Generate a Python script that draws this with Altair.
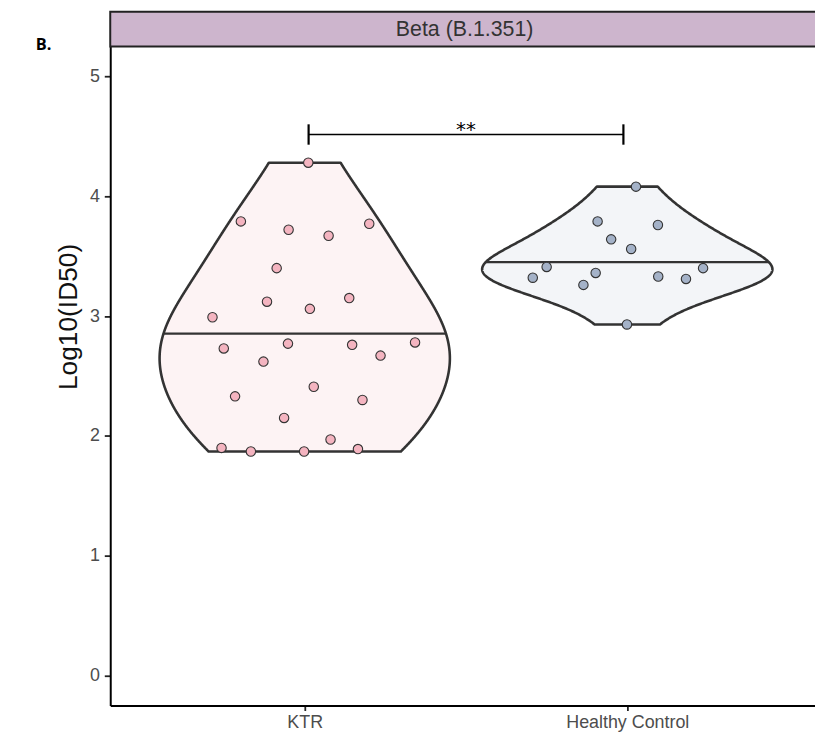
import numpy as np
import pandas as pd
import altair as alt

# ---------------- data ----------------
groups = ["KTR", "Healthy Control"]
group_pos = [1, 2]

ktr_values = [4.28, 3.79, 3.72, 3.67, 3.77, 3.40, 3.12, 3.06, 3.15, 2.99,
              2.73, 2.77, 2.62, 2.76, 2.67, 2.78, 2.33, 2.41, 2.30, 2.15,
              1.97, 1.90, 1.87, 1.87, 1.89]
ktr_jitter = [0.011, -0.198, -0.050, 0.074, 0.200, -0.087, -0.117, 0.016, 0.138, -0.286,
              -0.251, -0.052, -0.128, 0.147, 0.235, 0.342, -0.216, 0.028, 0.179, -0.064,
              0.080, -0.258, -0.167, -0.002, 0.165]

hc_values = [4.08, 3.79, 3.76, 3.64, 3.56, 3.41, 3.32, 3.36, 3.26, 3.33, 3.31, 3.40, 2.93]
hc_jitter = [0.027, -0.092, 0.095, -0.050, 0.012, -0.250, -0.293, -0.098, -0.136, 0.096,
             0.182, 0.235, -0.001]

point_fill = ["#F4B4C0", "#A4B2C8"]
violin_fill = ["#FDF3F4", "#F3F5F8"]

y_ticks = [0, 1, 2, 3, 4, 5]
y_title = "Log10(ID50)"
strip_label = "Beta (B.1.351)"
panel_tag = "B."
signif_label = "**"
bracket_y = [4.43, 4.515, 4.60]   # tick bottom, bar, tick top
bracket_x = [1.012, 1.988]
bw_adjust = 1.5

# ---------------- build tables ----------------
pts = pd.DataFrame({
    "group": [groups[0]] * len(ktr_values) + [groups[1]] * len(hc_values),
    "value": ktr_values + hc_values,
    "xp": [group_pos[0] + j for j in ktr_jitter] + [group_pos[1] + j for j in hc_jitter],
})


def violin(vals, center, name, half=0.45, n_grid=512):
    v = np.asarray(vals, dtype=float)
    n = len(v)
    sd = v.std(ddof=1)
    q75, q25 = np.percentile(v, [75, 25])
    bw = bw_adjust * 0.9 * min(sd, (q75 - q25) / 1.34) * n ** -0.2
    grid = np.linspace(v.min(), v.max(), n_grid)
    dens = np.exp(-0.5 * ((grid[:, None] - v[None, :]) / bw) ** 2).sum(1) / (n * bw * np.sqrt(2 * np.pi))
    w = dens / dens.max() * half
    cdf = np.cumsum(dens) / dens.sum()
    med = float(np.interp(0.5, cdf, grid))
    mw = float(np.interp(med, grid, w))
    shape = pd.DataFrame({"group": name, "y": grid, "xl": center - w, "xr": center + w})
    medrow = {"group": name, "y": med, "x1": center - mw, "x2": center + mw}
    return shape, medrow


s1, m1 = violin(ktr_values, group_pos[0], groups[0])
s2, m2 = violin(hc_values, group_pos[1], groups[1])
shapes = pd.concat([s1, s2], ignore_index=True)
meds = pd.DataFrame([m1, m2])

xscale = alt.Scale(domain=[0.397, 2.582], nice=False, zero=False)
yscale = alt.Scale(domain=[-0.25, 5.25], nice=False, zero=False)

label_expr = " : ".join(
    f"datum.value == {p} ? '{g}'" for p, g in zip(group_pos[:-1], groups[:-1])
) + f" : '{groups[-1]}'"

x_axis = alt.Axis(values=group_pos, labelExpr=label_expr, title="", grid=False,
                  domainColor="#000000", domainWidth=2, tickColor="#222222", tickWidth=1.8,
                  tickSize=5, labelFontSize=18, labelColor="#4D4D4D", labelPadding=3,
                  labelFont="Liberation Sans")
y_axis = alt.Axis(values=y_ticks, title=y_title, grid=False, format="d",
                  domainColor="#000000", domainWidth=2, tickColor="#222222", tickWidth=1.8,
                  tickSize=6, labelFontSize=18, labelColor="#4D4D4D", labelPadding=5,
                  labelFont="Liberation Sans", titleFont="Liberation Sans", titleFontSize=26.5,
                  titleFontWeight="normal", titleColor="#111111", titlePadding=7,
                  titleY=272)

fill_v = alt.Fill("group:N", scale=alt.Scale(domain=groups, range=violin_fill), legend=None)
color_p = alt.Color("group:N", scale=alt.Scale(domain=groups, range=point_fill), legend=None)

violins = alt.Chart(shapes).mark_area(orient="horizontal", stroke="#333333", strokeWidth=2.6,
                                      strokeJoin="round").encode(
    x=alt.X("xl:Q", scale=xscale, axis=x_axis),
    x2="xr:Q",
    y=alt.Y("y:Q", scale=yscale, axis=y_axis),
    fill=fill_v,
    detail="group:N",
)

median_lines = alt.Chart(meds).mark_rule(color="#333333", strokeWidth=2.4).encode(
    x=alt.X("x1:Q", scale=xscale), x2="x2:Q", y=alt.Y("y:Q", scale=yscale)
)

points = alt.Chart(pts).mark_circle(size=90, opacity=1, stroke="#333333", strokeWidth=1.1).encode(
    x=alt.X("xp:Q", scale=xscale), y=alt.Y("value:Q", scale=yscale), color=color_p
)

bar_df = pd.DataFrame({"x1": [bracket_x[0]], "x2": [bracket_x[1]], "y": [bracket_y[1]]})
bracket_bar = alt.Chart(bar_df).mark_rule(color="#000000", strokeWidth=1.6).encode(
    x=alt.X("x1:Q", scale=xscale), x2="x2:Q", y=alt.Y("y:Q", scale=yscale)
)
tick_df = pd.DataFrame({"x": bracket_x, "y1": [bracket_y[0]] * 2, "y2": [bracket_y[2]] * 2})
bracket_ticks = alt.Chart(tick_df).mark_rule(color="#000000", strokeWidth=2.2).encode(
    x=alt.X("x:Q", scale=xscale), y=alt.Y("y1:Q", scale=yscale), y2="y2:Q"
)
sig_df = pd.DataFrame({"x": [sum(bracket_x) / 2], "y": [bracket_y[1]], "t": [signif_label]})
sig_text = alt.Chart(sig_df).mark_text(fontSize=20, font="DejaVu Sans", baseline="alphabetic",
                                       dy=1, color="#000000").encode(
    x=alt.X("x:Q", scale=xscale), y=alt.Y("y:Q", scale=yscale), text="t:N"
)

one = pd.DataFrame({"t": [strip_label]})
strip = alt.Chart(one).mark_rect(fill="#CDB5CD", stroke="#222222", strokeWidth=2).encode(
    x=alt.value(0), x2=alt.value(740), y=alt.value(-35), y2=alt.value(0)
)
strip_text = alt.Chart(one).mark_text(fontSize=21.5, font="Liberation Sans", color="#333333",
                                      baseline="middle").encode(
    x=alt.value(357), y=alt.value(-17), text="t:N"
)
tag = alt.Chart(pd.DataFrame({"t": [panel_tag]})).mark_text(
    fontSize=16.5, font="Open Sans", fontWeight="bold", color="#000000", align="left",
    baseline="alphabetic").encode(x=alt.value(-75), y=alt.value(4), text="t:N")

chart = alt.layer(
    strip, strip_text, tag, violins, median_lines, points, bracket_bar, bracket_ticks, sig_text
).properties(
    width=710, height=664,
    padding={"left": 103, "top": 36, "right": 0, "bottom": 30},
    autosize=alt.AutoSizeParams(type="none"),
    background="#FFFFFF",
).configure_view(strokeWidth=0)

chart.save("out.html", embed_options={"renderer": "svg", "actions": False})
